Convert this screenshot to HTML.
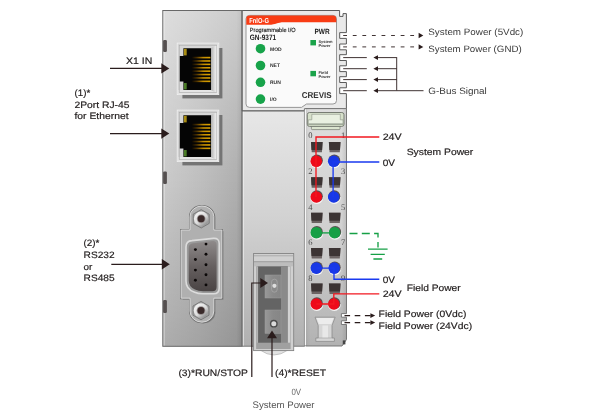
<!DOCTYPE html>
<html lang="en"><head><meta charset="utf-8"><title>GN-9371 Programmable I/O</title>
<style>
html,body{margin:0;padding:0;background:#fff;}
body{width:600px;height:417px;overflow:hidden;}
svg{display:block;}
text{text-rendering:geometricPrecision;}
</style></head><body>
<svg width="600" height="417" viewBox="0 0 600 417">
<rect width="600" height="417" fill="#fff"/>
<g filter="url(#noop)">
<defs>
<filter id="noop" x="0" y="0" width="600" height="417" filterUnits="userSpaceOnUse" color-interpolation-filters="sRGB"><feOffset dx="0" dy="0"/></filter>
<linearGradient id="gBody" x1="0" x2="1" y1="0" y2="0">
 <stop offset="0" stop-color="#dadada"/><stop offset="0.035" stop-color="#cacaca"/><stop offset="0.5" stop-color="#bebebe"/><stop offset="0.93" stop-color="#b0b0b0"/><stop offset="1" stop-color="#9e9e9e"/>
</linearGradient>
<linearGradient id="gMid" x1="0" x2="0" y1="0" y2="1">
 <stop offset="0" stop-color="#e7e7e7"/><stop offset="0.45" stop-color="#d2d2d2"/><stop offset="1" stop-color="#b0b0b0"/>
</linearGradient>
<linearGradient id="gShade" x1="0" x2="0" y1="0" y2="1">
 <stop offset="0" stop-color="#fff" stop-opacity="0.36"/><stop offset="0.5" stop-color="#fff" stop-opacity="0"/><stop offset="0.5" stop-color="#000" stop-opacity="0"/><stop offset="1" stop-color="#000" stop-opacity="0.15"/>
</linearGradient>
<linearGradient id="gTerm" x1="0" x2="0" y1="0" y2="1">
 <stop offset="0" stop-color="#dedede"/><stop offset="0.55" stop-color="#cfcfcf"/><stop offset="1" stop-color="#b2b2b2"/>
</linearGradient>
<linearGradient id="gTermX" x1="0" x2="1" y1="0" y2="0">
 <stop offset="0" stop-color="#000" stop-opacity="0.06"/><stop offset="0.12" stop-color="#000" stop-opacity="0"/><stop offset="0.88" stop-color="#000" stop-opacity="0"/><stop offset="1" stop-color="#000" stop-opacity="0.1"/>
</linearGradient>
<linearGradient id="gFrame" x1="0" x2="1" y1="0" y2="0">
 <stop offset="0" stop-color="#b0b0b0"/><stop offset="0.5" stop-color="#dedede"/><stop offset="0.85" stop-color="#f6f6f6"/><stop offset="1" stop-color="#e0e0e0"/>
</linearGradient>
<linearGradient id="gPin" x1="0" x2="1" y1="0" y2="0">
 <stop offset="0" stop-color="#0a0600"/><stop offset="0.25" stop-color="#4a3000"/><stop offset="0.6" stop-color="#c08a00"/><stop offset="1" stop-color="#dca400"/>
</linearGradient>
<linearGradient id="gShell" x1="0" x2="0" y1="0" y2="1">
 <stop offset="0" stop-color="#8e8a8a"/><stop offset="0.5" stop-color="#666060"/><stop offset="1" stop-color="#4a4444"/>
</linearGradient>
<linearGradient id="gNut" x1="0.15" y1="0.1" x2="0.85" y2="0.9">
 <stop offset="0" stop-color="#f4f4f4"/><stop offset="0.55" stop-color="#dcdcdc"/><stop offset="1" stop-color="#8e8e8e"/>
</linearGradient>
<linearGradient id="gSw" x1="0" x2="1" y1="0" y2="0">
 <stop offset="0" stop-color="#989898"/><stop offset="0.5" stop-color="#8a8a8a"/><stop offset="1" stop-color="#868686"/>
</linearGradient>
</defs>
<rect x="162.8" y="10.5" width="79.2" height="335.8" fill="url(#gBody)"/>
<rect x="162.8" y="10.5" width="79.2" height="335.8" fill="url(#gShade)" stroke="#686868" stroke-width="1"/>
<path d="M164.2 11.5 V345.5" stroke="#ececec" stroke-width="0.9" opacity="0.55"/>
<rect x="163.1" y="40" width="3.8" height="12" rx="1.2" fill="#555050"/>
<rect x="163.1" y="171.5" width="3.8" height="12.5" rx="1.2" fill="#555050"/>
<rect x="163.1" y="300" width="3.8" height="13" rx="1.2" fill="#555050"/>
<rect x="242.2" y="110.8" width="62.2" height="235.4" fill="url(#gMid)" stroke="#6e6e6e" stroke-width="0.9"/>
<path d="M243.4 111.5 V345.6" stroke="#f2f2f2" stroke-width="0.9" opacity="0.8"/>
<path d="M242.2 10.5 H339.6 V16.4 H343 V13.6 H346.4 V32.6 H339.7 V38.4 H346.4 V44.0 H339.7 V49.8 H346.4 V54.7 H339.7 V60.5 H346.4 V65.8 H339.7 V71.6 H346.4 V76.7 H339.7 V82.5 H346.4 V87.8 H339.7 V93.6 H346.4 V108.8 H304.4 V110.8 H242.2 Z" fill="#e9e9e9" stroke="#4a4a4a" stroke-width="0.9"/>
<path d="M249.5 15.4 H333 a3.5 3.5 0 0 1 3.5 3.5 V100.5 a3.5 3.5 0 0 1 -3.5 3.5 H306.5 L301.5 107.4 H249.5 a3.5 3.5 0 0 1 -3.5 -3.5 V18.9 a3.5 3.5 0 0 1 3.5 -3.5 Z" fill="#fafafa" stroke="#8c8c8c" stroke-width="0.9"/>
<path d="M246.3 24.8 V18.9 a3.3 3.3 0 0 1 3.3 -3.3 H333 a3.3 3.3 0 0 1 3.3 3.3 V22.3 H284 C277 22.3 276 24.8 269 24.8 Z" fill="#f83c14"/>
<text x="249.3" y="23" font-size="7.2" font-family='"Liberation Sans", sans-serif' fill="#fff" textLength="19.6" lengthAdjust="spacingAndGlyphs" font-weight="bold">FnIO-G</text>
<text x="249.8" y="31.7" font-size="6" font-family='"Liberation Sans", sans-serif' fill="#1a1a1a" textLength="45.8" lengthAdjust="spacingAndGlyphs" stroke="#1a1a1a" stroke-width="0.15">Programmable I/O</text>
<text x="249.8" y="39.6" font-size="7.8" font-family='"Liberation Sans", sans-serif' fill="#1c1c1c" textLength="26.4" lengthAdjust="spacingAndGlyphs" font-weight="bold">GN-9371</text>
<text x="314.4" y="33.9" font-size="7.6" font-family='"Liberation Sans", sans-serif' fill="#1c1c1c" textLength="15.2" lengthAdjust="spacingAndGlyphs" font-weight="bold">PWR</text>
<circle cx="260.5" cy="48.7" r="4.8" fill="#17a34a"/>
<text x="270" y="50.5" font-size="5" font-family='"Liberation Sans", sans-serif' fill="#2e2e2e" font-weight="bold">MOD</text>
<circle cx="260.5" cy="65.5" r="4.8" fill="#17a34a"/>
<text x="270" y="67.3" font-size="5" font-family='"Liberation Sans", sans-serif' fill="#2e2e2e" font-weight="bold">NET</text>
<circle cx="260.5" cy="82.3" r="4.8" fill="#17a34a"/>
<text x="270" y="84.1" font-size="5" font-family='"Liberation Sans", sans-serif' fill="#2e2e2e" font-weight="bold">RUN</text>
<circle cx="260.5" cy="99.1" r="4.8" fill="#17a34a"/>
<text x="270" y="100.9" font-size="5" font-family='"Liberation Sans", sans-serif' fill="#2e2e2e" font-weight="bold">I/O</text>
<rect x="310.4" y="40" width="5.6" height="5.4" fill="#1aa34a"/>
<rect x="310.4" y="70.9" width="5.6" height="5.4" fill="#1aa34a"/>
<text x="318.5" y="43" font-size="4" font-family='"Liberation Sans", sans-serif' fill="#333" textLength="14" lengthAdjust="spacingAndGlyphs" font-weight="bold">System</text>
<text x="318.5" y="47.2" font-size="4" font-family='"Liberation Sans", sans-serif' fill="#333" textLength="12" lengthAdjust="spacingAndGlyphs" font-weight="bold">Power</text>
<text x="318.5" y="73.8" font-size="4" font-family='"Liberation Sans", sans-serif' fill="#333" textLength="9.5" lengthAdjust="spacingAndGlyphs" font-weight="bold">Field</text>
<text x="318.5" y="78.2" font-size="4" font-family='"Liberation Sans", sans-serif' fill="#333" textLength="12" lengthAdjust="spacingAndGlyphs" font-weight="bold">Power</text>
<text x="301.7" y="98" font-size="8.5" font-family='"Liberation Sans", sans-serif' fill="#333" textLength="30" lengthAdjust="spacingAndGlyphs" font-weight="bold">CREVIS</text>
<g transform="translate(0,0)">
<rect x="182.4" y="48" width="40" height="50.4" fill="#747474"/>
<rect x="177.2" y="43.1" width="41.6" height="51.5" fill="#d6d6d6" stroke="#f0f0f0" stroke-width="0.8"/>
<rect x="178" y="90" width="40" height="4.2" fill="#e4e4e4"/>
<path d="M211 48.3 L218.2 44 V94.2 L211 89.9 Z" fill="url(#gFrame)"/>
<rect x="179.2" y="45.2" width="37.6" height="47.3" fill="none" stroke="#a8a8a8" stroke-width="0.6"/>
<path d="M183.4 48.3 H211 V89.9 H183.4 V81.5 H179.8 V56 H183.4 Z" fill="#050505"/>
<rect x="183.9" y="48.8" width="2.8" height="6.6" fill="#a88c12"/>
<rect x="183.9" y="83" width="2.8" height="6.4" fill="#4a7c26"/>
<rect x="192" y="56.80" width="18.4" height="1.6" fill="url(#gPin)"/>
<rect x="192" y="60.19" width="18.4" height="1.6" fill="url(#gPin)"/>
<rect x="192" y="63.58" width="18.4" height="1.6" fill="url(#gPin)"/>
<rect x="192" y="66.97" width="18.4" height="1.6" fill="url(#gPin)"/>
<rect x="192" y="70.36" width="18.4" height="1.6" fill="url(#gPin)"/>
<rect x="192" y="73.75" width="18.4" height="1.6" fill="url(#gPin)"/>
<rect x="192" y="77.14" width="18.4" height="1.6" fill="url(#gPin)"/>
<rect x="192" y="80.53" width="18.4" height="1.6" fill="url(#gPin)"/>
</g>
<g transform="translate(0,67)">
<rect x="182.4" y="48" width="40" height="50.4" fill="#747474"/>
<rect x="177.2" y="43.1" width="41.6" height="51.5" fill="#d6d6d6" stroke="#f0f0f0" stroke-width="0.8"/>
<rect x="178" y="90" width="40" height="4.2" fill="#e4e4e4"/>
<path d="M211 48.3 L218.2 44 V94.2 L211 89.9 Z" fill="url(#gFrame)"/>
<rect x="179.2" y="45.2" width="37.6" height="47.3" fill="none" stroke="#a8a8a8" stroke-width="0.6"/>
<path d="M183.4 48.3 H211 V89.9 H183.4 V81.5 H179.8 V56 H183.4 Z" fill="#050505"/>
<rect x="183.9" y="48.8" width="2.8" height="6.6" fill="#a88c12"/>
<rect x="183.9" y="83" width="2.8" height="6.4" fill="#4a7c26"/>
<rect x="192" y="56.80" width="18.4" height="1.6" fill="url(#gPin)"/>
<rect x="192" y="60.19" width="18.4" height="1.6" fill="url(#gPin)"/>
<rect x="192" y="63.58" width="18.4" height="1.6" fill="url(#gPin)"/>
<rect x="192" y="66.97" width="18.4" height="1.6" fill="url(#gPin)"/>
<rect x="192" y="70.36" width="18.4" height="1.6" fill="url(#gPin)"/>
<rect x="192" y="73.75" width="18.4" height="1.6" fill="url(#gPin)"/>
<rect x="192" y="77.14" width="18.4" height="1.6" fill="url(#gPin)"/>
<rect x="192" y="80.53" width="18.4" height="1.6" fill="url(#gPin)"/>
</g>
<path d="M222.8 231 V300 H214.5 V323 H223 Z" fill="#8a8a8a" opacity="0"/>
<path d="M181.2 230 H190 V216.5 a11.9 10.5 0 0 1 23.8 0 V230 H221.8 V298.2 H213.8 V311 a11.9 11.2 0 0 1 -23.8 0 V298.2 H181.2 Z" transform="translate(1.6,1.2)" fill="#7a7a7a"/>
<path d="M181.2 230 H190 V216.5 a11.9 10.5 0 0 1 23.8 0 V230 H221.8 V298.2 H213.8 V311 a11.9 11.2 0 0 1 -23.8 0 V298.2 H181.2 Z" fill="#aeaeae" stroke="#707070" stroke-width="2"/>
<path d="M181.2 230 H190 V216.5 a11.9 10.5 0 0 1 23.8 0 V230 H221.8 V298.2 H213.8 V311 a11.9 11.2 0 0 1 -23.8 0 V298.2 H181.2 Z" fill="#b0b0b0" stroke="#dedede" stroke-width="0.9"/>
<polygon points="201.2,228.0 193.2,223.4 193.2,214.2 201.2,209.6 209.2,214.2 209.2,223.4" fill="#a2a2a2" stroke="#767676" stroke-width="0.9"/>
<circle cx="201.2" cy="218.8" r="7.3" fill="url(#gNut)"/>
<circle cx="201.2" cy="218.8" r="4.4" fill="#9a9494"/>
<circle cx="201.2" cy="218.8" r="3.5" fill="#3a2a2a"/>
<polygon points="201.0,319.8 193.0,315.2 193.0,306.0 201.0,301.4 209.0,306.0 209.0,315.2" fill="#a2a2a2" stroke="#767676" stroke-width="0.9"/>
<circle cx="201" cy="310.6" r="7.3" fill="url(#gNut)"/>
<circle cx="201" cy="310.6" r="4.4" fill="#9a9494"/>
<circle cx="201" cy="310.6" r="3.5" fill="#3a2a2a"/>
<path d="M192 240.6 Q186 241 186 247 V281 Q186 289 194 292 Q198 293.8 203 293.8 H213.5 Q219.2 293.8 219.2 288 V243.5 Q219.2 238 213.5 238.4 Z" fill="#9a9a9a" stroke="#dcdcdc" stroke-width="1.6"/>
<path d="M193.2 243.2 Q188.7 243.6 188.7 248 V280.5 Q188.7 286.8 195 289.6 Q198.5 291.2 203 291.2 H212.5 Q216.6 291.2 216.6 287 V245 Q216.6 240.8 212.5 241.1 Z" fill="url(#gShell)"/>
<circle cx="206" cy="244.1" r="1.45" fill="#0c0808"/>
<circle cx="206" cy="254.2" r="1.45" fill="#0c0808"/>
<circle cx="206" cy="264.7" r="1.45" fill="#0c0808"/>
<circle cx="206" cy="274.8" r="1.45" fill="#0c0808"/>
<circle cx="206" cy="284.9" r="1.45" fill="#0c0808"/>
<circle cx="195.4" cy="249.6" r="1.45" fill="#0c0808"/>
<circle cx="195.4" cy="259.5" r="1.45" fill="#0c0808"/>
<circle cx="195.4" cy="270.1" r="1.45" fill="#0c0808"/>
<circle cx="195.4" cy="280.3" r="1.45" fill="#0c0808"/>
<path d="M260 350 Q274 360 288 350 Z" fill="#e2e2e2" stroke="#a8a8a8" stroke-width="0.6"/>
<rect x="253.6" y="253.5" width="40.1" height="97.1" fill="#d0d0d0" stroke="#848484" stroke-width="0.9"/>
<rect x="254" y="255.4" width="39" height="1.1" fill="#a4a4a4"/>
<rect x="254" y="256.5" width="39" height="5" fill="#d0d0d0"/>
<rect x="254" y="261.4" width="39" height="1.1" fill="#8c8c8c"/>
<rect x="254" y="262.5" width="39" height="3.8" fill="#bdbdbd"/>
<rect x="256.6" y="266.3" width="33.7" height="82.7" fill="#646464"/>
<rect x="256.6" y="266.3" width="1.5" height="82.7" fill="#b4b4b4"/>
<rect x="281" y="266.3" width="6.8" height="82.7" fill="#8a8a8a"/>
<rect x="287.8" y="266.3" width="2.5" height="82.7" fill="#d2d2d2"/>
<rect x="256.6" y="342.7" width="33.7" height="6.3" fill="#a0a0a0"/>
<rect x="265" y="275" width="16" height="23" fill="url(#gSw)" stroke="#9c9c9c" stroke-width="0.5"/>
<rect x="271.6" y="279.2" width="5.6" height="13" rx="2.8" fill="#8a8a8a" stroke="#b0b0b0" stroke-width="0.6"/>
<circle cx="274.4" cy="285.8" r="2.1" fill="#dedede"/>
<rect x="265" y="310" width="16" height="23.4" fill="url(#gSw)" stroke="#9c9c9c" stroke-width="0.5"/>
<circle cx="273.8" cy="323.7" r="3.2" fill="#dadada" stroke="#4c4c4c" stroke-width="1.4"/>
<path d="M305.6 108.6 H346.5 V313.6 H341.4 V317.2 H346.5 V320.8 H341.4 V324.5 H346.5 V339.5 L342 346 H305.6 Z" fill="url(#gTerm)"/>
<path d="M305.6 108.6 H346.5 V313.6 H341.4 V317.2 H346.5 V320.8 H341.4 V324.5 H346.5 V339.5 L342 346 H305.6 Z" fill="url(#gTermX)" stroke="#6e6e6e" stroke-width="0.9"/>
<path d="M305.4 109.2 V345.4" stroke="#f6f6f6" stroke-width="1.3"/>
<rect x="311.4" y="125" width="28.6" height="4.6" rx="0.8" fill="#dbe5cf" stroke="#74786e" stroke-width="0.7"/>
<rect x="307.3" y="112.5" width="36.7" height="13.9" rx="2.2" fill="#d6e0ca" stroke="#6c7068" stroke-width="0.9"/>
<path d="M311.8 114.3 H340.3 V119.8 H343 V123.8 H308.3 V119.8 H311.8 Z" fill="#e9f0e1" stroke="#8a9084" stroke-width="0.6"/>
<path d="M308 124.4 H343.4" stroke="#8a9084" stroke-width="0.7"/>
<path d="M311 141.9 h11.6 l-0.7 10.4 h-10.2 Z" fill="#6c6464"/>
<path d="M311 141.9 h11.6 l-0.5 8 h-10.6 Z" fill="#3c3434"/>
<path d="M328.9 141.9 h11.6 l-0.7 10.4 h-10.2 Z" fill="#6c6464"/>
<path d="M328.9 141.9 h11.6 l-0.5 8 h-10.6 Z" fill="#3c3434"/>
<circle cx="316.8" cy="161.8" r="6.5" fill="#f4f4f4"/>
<circle cx="316.90000000000003" cy="160.6" r="6" fill="#585050"/>
<circle cx="334.2" cy="161.8" r="6.5" fill="#f4f4f4"/>
<circle cx="334.3" cy="160.6" r="6" fill="#585050"/>
<circle cx="316.3" cy="161.3" r="5.8" fill="#ee0a1a"/>
<circle cx="333.7" cy="161.3" r="5.8" fill="#1838e6"/>
<text x="308.2" y="138.4" font-size="8.5" font-family='"Liberation Serif", serif' fill="#4a4a4a">0</text>
<text x="341" y="138.4" font-size="8.5" font-family='"Liberation Serif", serif' fill="#4a4a4a">1</text>
<path d="M311 177.3 h11.6 l-0.7 10.4 h-10.2 Z" fill="#6c6464"/>
<path d="M311 177.3 h11.6 l-0.5 8 h-10.6 Z" fill="#3c3434"/>
<path d="M328.9 177.3 h11.6 l-0.7 10.4 h-10.2 Z" fill="#6c6464"/>
<path d="M328.9 177.3 h11.6 l-0.5 8 h-10.6 Z" fill="#3c3434"/>
<circle cx="316.8" cy="197.5" r="6.5" fill="#f4f4f4"/>
<circle cx="316.90000000000003" cy="196.3" r="6" fill="#585050"/>
<circle cx="334.2" cy="197.5" r="6.5" fill="#f4f4f4"/>
<circle cx="334.3" cy="196.3" r="6" fill="#585050"/>
<circle cx="316.3" cy="197" r="5.8" fill="#ee0a1a"/>
<circle cx="333.7" cy="197" r="5.8" fill="#1838e6"/>
<text x="308.2" y="174.1" font-size="8.5" font-family='"Liberation Serif", serif' fill="#4a4a4a">2</text>
<text x="341" y="174.1" font-size="8.5" font-family='"Liberation Serif", serif' fill="#4a4a4a">3</text>
<path d="M311 212.7 h11.6 l-0.7 10.4 h-10.2 Z" fill="#6c6464"/>
<path d="M311 212.7 h11.6 l-0.5 8 h-10.6 Z" fill="#3c3434"/>
<path d="M328.9 212.7 h11.6 l-0.7 10.4 h-10.2 Z" fill="#6c6464"/>
<path d="M328.9 212.7 h11.6 l-0.5 8 h-10.6 Z" fill="#3c3434"/>
<circle cx="316.8" cy="233.2" r="6.5" fill="#f4f4f4"/>
<circle cx="316.90000000000003" cy="232.0" r="6" fill="#585050"/>
<circle cx="335.1" cy="233.2" r="6.5" fill="#f4f4f4"/>
<circle cx="335.20000000000005" cy="232.0" r="6" fill="#585050"/>
<circle cx="316.3" cy="232.7" r="5.8" fill="#16a046"/>
<circle cx="334.6" cy="232.7" r="5.8" fill="#16a046"/>
<text x="308.2" y="209.8" font-size="8.5" font-family='"Liberation Serif", serif' fill="#4a4a4a">4</text>
<text x="341" y="209.8" font-size="8.5" font-family='"Liberation Serif", serif' fill="#4a4a4a">5</text>
<path d="M311 248.1 h11.6 l-0.7 10.4 h-10.2 Z" fill="#6c6464"/>
<path d="M311 248.1 h11.6 l-0.5 8 h-10.6 Z" fill="#3c3434"/>
<path d="M328.9 248.1 h11.6 l-0.7 10.4 h-10.2 Z" fill="#6c6464"/>
<path d="M328.9 248.1 h11.6 l-0.5 8 h-10.6 Z" fill="#3c3434"/>
<circle cx="316.8" cy="268.6" r="6.5" fill="#f4f4f4"/>
<circle cx="316.90000000000003" cy="267.4" r="6" fill="#585050"/>
<circle cx="334.7" cy="268.6" r="6.5" fill="#f4f4f4"/>
<circle cx="334.8" cy="267.4" r="6" fill="#585050"/>
<circle cx="316.3" cy="268.1" r="5.8" fill="#1838e6"/>
<circle cx="334.2" cy="268.1" r="5.8" fill="#1838e6"/>
<text x="308.2" y="245.2" font-size="8.5" font-family='"Liberation Serif", serif' fill="#4a4a4a">6</text>
<text x="341" y="245.2" font-size="8.5" font-family='"Liberation Serif", serif' fill="#4a4a4a">7</text>
<path d="M311 283.5 h11.6 l-0.7 10.4 h-10.2 Z" fill="#6c6464"/>
<path d="M311 283.5 h11.6 l-0.5 8 h-10.6 Z" fill="#3c3434"/>
<path d="M328.9 283.5 h11.6 l-0.7 10.4 h-10.2 Z" fill="#6c6464"/>
<path d="M328.9 283.5 h11.6 l-0.5 8 h-10.6 Z" fill="#3c3434"/>
<circle cx="316.8" cy="304.5" r="6.5" fill="#f4f4f4"/>
<circle cx="316.90000000000003" cy="303.3" r="6" fill="#585050"/>
<circle cx="334.3" cy="304.5" r="6.5" fill="#f4f4f4"/>
<circle cx="334.40000000000003" cy="303.3" r="6" fill="#585050"/>
<circle cx="316.3" cy="304" r="5.8" fill="#ee0a1a"/>
<circle cx="333.8" cy="304" r="5.8" fill="#ee0a1a"/>
<text x="308.2" y="281.1" font-size="8.5" font-family='"Liberation Serif", serif' fill="#4a4a4a">8</text>
<text x="341" y="281.1" font-size="8.5" font-family='"Liberation Serif", serif' fill="#4a4a4a">9</text>
<path d="M315 317.2 H335.2 L332 325.5 V338 H334.4 V341.4 H315.8 V338 H318.2 V325.5 Z" fill="#d6d6d6" stroke="#8c8c8c" stroke-width="0.8"/>
<path d="M316.6 318 H333.6 L331.4 324 H318.8 Z" fill="#ececec"/>
<rect x="322.4" y="325.5" width="5.6" height="12.5" fill="#e8e8e8"/>
<path d="M318.2 338 H332" stroke="#9a9a9a" stroke-width="0.6"/>
<rect x="342.8" y="340.4" width="2.6" height="4" fill="#444"/>
<path d="M316 197 V137 H379.3" fill="none" stroke="#f21820" stroke-width="1.35"/>
<path d="M333.1 197 V162 H379.3" fill="none" stroke="#1a3af0" stroke-width="1.35"/>
<path d="M316.3 232.9 H334.6" fill="none" stroke="#16a046" stroke-width="1.35"/>
<path d="M349.5 233.5 H378 V247.5" fill="none" stroke="#16a046" stroke-width="1.35" stroke-dasharray="8 4.3"/>
<path d="M368 249.1 H387.6 M370.6 254.4 H384.8 M373.4 259 H382.2" fill="none" stroke="#16a046" stroke-width="1.4"/>
<path d="M316.3 268.1 H334 V279.2 H379.3" fill="none" stroke="#1a3af0" stroke-width="1.35"/>
<path d="M316.3 304 H333.8 V293.8 H379.3" fill="none" stroke="#f21820" stroke-width="1.35"/>
<path d="M110 68.4 H162.3" stroke="#2a1c1c" stroke-width="1.25" fill="none"/>
<path d="M169.3 68.4 L161.3 63.2 V73.60000000000001 Z" fill="#2a1c1c"/>
<path d="M110 133.6 H162.3" stroke="#2a1c1c" stroke-width="1.25" fill="none"/>
<path d="M169.3 133.6 L161.3 128.4 V138.79999999999998 Z" fill="#2a1c1c"/>
<path d="M111.3 264.3 H162.8" stroke="#2a1c1c" stroke-width="1.25" fill="none"/>
<path d="M169.8 264.3 L161.8 259.1 V269.5 Z" fill="#2a1c1c"/>
<path d="M251.8 377 V283 H261" stroke="#2a1c1c" stroke-width="1.2" fill="none"/>
<path d="M268 283 L260.3 278 V288 Z" fill="#2a1c1c"/>
<path d="M272 377 V337" stroke="#2a1c1c" stroke-width="1.2" fill="none"/>
<path d="M272 330.4 L267 338.3 H277 Z" fill="#2a1c1c"/>
<path d="M343.2 35.5 H417" stroke="#2a1c1c" stroke-width="0.9" fill="none" stroke-dasharray="3.8 5.78"/>
<path d="M423.3 35.5 L418.6 32.8 V38.2 Z" fill="#2a1c1c"/>
<path d="M343.2 46.9 H417" stroke="#2a1c1c" stroke-width="0.9" fill="none" stroke-dasharray="3.8 5.78"/>
<path d="M423.3 46.9 L418.6 44.199999999999996 V49.6 Z" fill="#2a1c1c"/>
<path d="M343.2 57.6 H366.8 M377 57.6 H396.7" stroke="#2a1c1c" stroke-width="0.9" fill="none"/>
<path d="M373.4 57.6 L378 55.2 V60.0 Z" fill="#2a1c1c"/>
<path d="M343.2 68.7 H366.8 M377 68.7 H396.7" stroke="#2a1c1c" stroke-width="0.9" fill="none"/>
<path d="M373.4 68.7 L378 66.3 V71.10000000000001 Z" fill="#2a1c1c"/>
<path d="M343.2 79.6 H366.8 M377 79.6 H396.7" stroke="#2a1c1c" stroke-width="0.9" fill="none"/>
<path d="M373.4 79.6 L378 77.19999999999999 V82.0 Z" fill="#2a1c1c"/>
<path d="M343.2 90.7 H366.8 M377 90.7 H396.7" stroke="#2a1c1c" stroke-width="0.9" fill="none"/>
<path d="M373.4 90.7 L378 88.3 V93.10000000000001 Z" fill="#2a1c1c"/>
<path d="M396.7 57.2 V90.7 H423.5" stroke="#2a1c1c" stroke-width="0.9" fill="none"/>
<path d="M344.5 315.6 H371" stroke="#2a1c1c" stroke-width="1.1" fill="none" stroke-dasharray="5.6 4.6"/>
<path d="M375.2 315.6 L370.4 313.20000000000005 V318.0 Z" fill="#2a1c1c"/>
<path d="M344.5 322.6 H371" stroke="#2a1c1c" stroke-width="1.1" fill="none" stroke-dasharray="5.6 4.6"/>
<path d="M375.2 322.6 L370.4 320.20000000000005 V325.0 Z" fill="#2a1c1c"/>
<text x="126.1" y="63.8" font-size="9.3" font-family='"Liberation Sans", sans-serif' fill="#262222" textLength="26.3" lengthAdjust="spacingAndGlyphs" stroke="#262222" stroke-width="0.18">X1 IN</text>
<text x="74.5" y="96" font-size="9.3" font-family='"Liberation Sans", sans-serif' fill="#262222" textLength="15.7" lengthAdjust="spacingAndGlyphs" stroke="#262222" stroke-width="0.18">(1)*</text>
<text x="74.5" y="107.8" font-size="9.3" font-family='"Liberation Sans", sans-serif' fill="#262222" textLength="55" lengthAdjust="spacingAndGlyphs" stroke="#262222" stroke-width="0.18">2Port RJ-45</text>
<text x="74.5" y="119.2" font-size="9.3" font-family='"Liberation Sans", sans-serif' fill="#262222" textLength="54" lengthAdjust="spacingAndGlyphs" stroke="#262222" stroke-width="0.18">for Ethernet</text>
<text x="83.4" y="246.1" font-size="9.3" font-family='"Liberation Sans", sans-serif' fill="#262222" textLength="15.9" lengthAdjust="spacingAndGlyphs" stroke="#262222" stroke-width="0.18">(2)*</text>
<text x="83.6" y="257.9" font-size="9.3" font-family='"Liberation Sans", sans-serif' fill="#262222" textLength="31" lengthAdjust="spacingAndGlyphs" stroke="#262222" stroke-width="0.18">RS232</text>
<text x="83.6" y="269.5" font-size="9.3" font-family='"Liberation Sans", sans-serif' fill="#262222" textLength="8.8" lengthAdjust="spacingAndGlyphs" stroke="#262222" stroke-width="0.18">or</text>
<text x="83.6" y="281.4" font-size="9.3" font-family='"Liberation Sans", sans-serif' fill="#262222" textLength="31" lengthAdjust="spacingAndGlyphs" stroke="#262222" stroke-width="0.18">RS485</text>
<text x="178.4" y="375.5" font-size="9.3" font-family='"Liberation Sans", sans-serif' fill="#262222" textLength="69.6" lengthAdjust="spacingAndGlyphs" stroke="#262222" stroke-width="0.18">(3)*RUN/STOP</text>
<text x="275" y="375.5" font-size="9.3" font-family='"Liberation Sans", sans-serif' fill="#262222" textLength="51" lengthAdjust="spacingAndGlyphs" stroke="#262222" stroke-width="0.18">(4)*RESET</text>
<text x="291.5" y="394.5" font-size="9" font-family='"Liberation Sans", sans-serif' fill="#666" textLength="9.6" lengthAdjust="spacingAndGlyphs">0V</text>
<text x="252.5" y="407.7" font-size="9.5" font-family='"Liberation Sans", sans-serif' fill="#555" textLength="62" lengthAdjust="spacingAndGlyphs">System Power</text>
<text x="428.3" y="35" font-size="9.2" font-family='"Liberation Sans", sans-serif' fill="#383838" textLength="95" lengthAdjust="spacingAndGlyphs">System Power (5Vdc)</text>
<text x="428.3" y="51.5" font-size="9.2" font-family='"Liberation Sans", sans-serif' fill="#383838" textLength="93.4" lengthAdjust="spacingAndGlyphs">System Power (GND)</text>
<text x="428.3" y="94.2" font-size="9.2" font-family='"Liberation Sans", sans-serif' fill="#383838" textLength="58.4" lengthAdjust="spacingAndGlyphs">G-Bus Signal</text>
<text x="382.7" y="140.3" font-size="9.3" font-family='"Liberation Sans", sans-serif' fill="#262222" textLength="19" lengthAdjust="spacingAndGlyphs" stroke="#262222" stroke-width="0.18">24V</text>
<text x="382.7" y="165.8" font-size="9.3" font-family='"Liberation Sans", sans-serif' fill="#262222" textLength="12.3" lengthAdjust="spacingAndGlyphs" stroke="#262222" stroke-width="0.18">0V</text>
<text x="406.7" y="155" font-size="9.3" font-family='"Liberation Sans", sans-serif' fill="#262222" textLength="66.6" lengthAdjust="spacingAndGlyphs" stroke="#262222" stroke-width="0.18">System Power</text>
<text x="382.7" y="282.8" font-size="9.3" font-family='"Liberation Sans", sans-serif' fill="#262222" textLength="12.3" lengthAdjust="spacingAndGlyphs" stroke="#262222" stroke-width="0.18">0V</text>
<text x="382.7" y="296.8" font-size="9.3" font-family='"Liberation Sans", sans-serif' fill="#262222" textLength="19" lengthAdjust="spacingAndGlyphs" stroke="#262222" stroke-width="0.18">24V</text>
<text x="406.7" y="291" font-size="9.3" font-family='"Liberation Sans", sans-serif' fill="#262222" textLength="54" lengthAdjust="spacingAndGlyphs" stroke="#262222" stroke-width="0.18">Field Power</text>
<text x="378.6" y="316.9" font-size="9.3" font-family='"Liberation Sans", sans-serif' fill="#262222" textLength="87.9" lengthAdjust="spacingAndGlyphs" stroke="#262222" stroke-width="0.18">Field Power (0Vdc)</text>
<text x="378.6" y="329" font-size="9.3" font-family='"Liberation Sans", sans-serif' fill="#262222" textLength="93.5" lengthAdjust="spacingAndGlyphs" stroke="#262222" stroke-width="0.18">Field Power (24Vdc)</text>
</g>
</svg>
</body></html>
